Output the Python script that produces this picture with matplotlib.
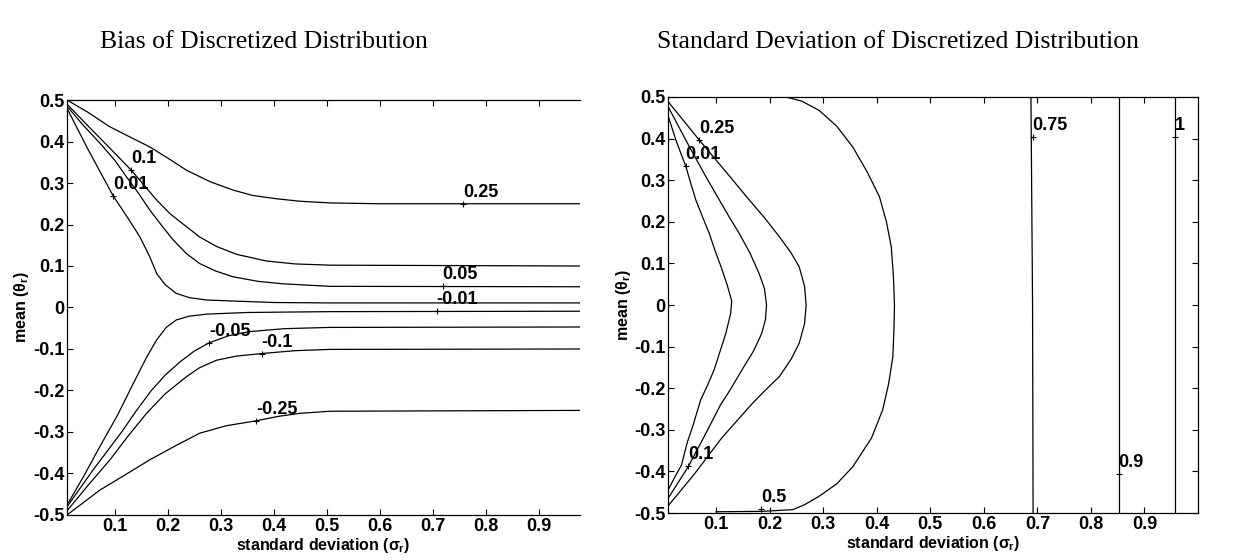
import matplotlib
matplotlib.use("Agg")
import matplotlib.pyplot as plt

plt.rcParams['font.family'] = ['Liberation Sans', 'DejaVu Sans']
plt.rcParams['mathtext.fontset'] = 'custom'
plt.rcParams['mathtext.rm'] = 'Liberation Sans:bold'
plt.rcParams['mathtext.it'] = 'Liberation Sans:bold'

# left panel: bias contours
b025_x = [0.01, 0.05, 0.09, 0.13, 0.166, 0.2, 0.235, 0.28, 0.323, 0.36, 0.405, 0.45, 0.506, 0.6, 0.757, 0.977]
b025_y = [0.5, 0.47, 0.436, 0.41, 0.387, 0.36, 0.331, 0.303, 0.283, 0.27, 0.262, 0.256, 0.252, 0.25, 0.25, 0.25]
b01_x = [0.01, 0.05, 0.09, 0.131, 0.155, 0.179, 0.205, 0.235, 0.26, 0.292, 0.33, 0.386, 0.44, 0.506, 0.977]
b01_y = [0.49, 0.437, 0.385, 0.331, 0.295, 0.259, 0.225, 0.195, 0.17, 0.147, 0.128, 0.112, 0.105, 0.102, 0.1]
b005_x = [0.01, 0.04, 0.072, 0.1, 0.122, 0.145, 0.166, 0.19, 0.21, 0.235, 0.26, 0.29, 0.323, 0.37, 0.418, 0.506, 0.977]
b005_y = [0.485, 0.44, 0.396, 0.355, 0.315, 0.275, 0.235, 0.195, 0.163, 0.13, 0.106, 0.088, 0.074, 0.063, 0.057, 0.051, 0.05]
b001_x = [0.01, 0.05, 0.097, 0.125, 0.147, 0.165, 0.179, 0.195, 0.216, 0.24, 0.273, 0.4, 0.506, 0.977]
b001_y = [0.48, 0.38, 0.269, 0.215, 0.171, 0.125, 0.082, 0.055, 0.034, 0.024, 0.018, 0.012, 0.011, 0.011]
bm001_x = [0.01, 0.04, 0.072, 0.105, 0.135, 0.16, 0.179, 0.197, 0.216, 0.24, 0.273, 0.35, 0.506, 0.977]
bm001_y = [-0.476, -0.41, -0.335, -0.26, -0.183, -0.12, -0.078, -0.048, -0.03, -0.021, -0.016, -0.012, -0.01, -0.009]
bm005_x = [0.01, 0.06, 0.113, 0.14, 0.169, 0.195, 0.223, 0.25, 0.278, 0.315, 0.355, 0.42, 0.506, 0.977]
bm005_y = [-0.48, -0.39, -0.3, -0.25, -0.2, -0.163, -0.131, -0.105, -0.085, -0.068, -0.058, -0.051, -0.048, -0.047]
bm01_x = [0.01, 0.05, 0.091, 0.125, 0.16, 0.195, 0.235, 0.26, 0.292, 0.33, 0.377, 0.44, 0.506, 0.977]
bm01_y = [-0.49, -0.428, -0.367, -0.31, -0.255, -0.208, -0.167, -0.145, -0.127, -0.117, -0.111, -0.104, -0.101, -0.1]
bm025_x = [0.01, 0.072, 0.12, 0.166, 0.215, 0.26, 0.31, 0.367, 0.41, 0.449, 0.506, 0.977]
bm025_y = [-0.5, -0.44, -0.403, -0.367, -0.333, -0.303, -0.285, -0.273, -0.262, -0.255, -0.25, -0.248]

bias_lines = [(b025_x, b025_y), (b01_x, b01_y), (b005_x, b005_y), (b001_x, b001_y),
              (bm001_x, bm001_y), (bm005_x, bm005_y), (bm01_x, bm01_y), (bm025_x, bm025_y)]
bias_lab = ["0.25", "0.1", "0.01", "0.05", "-0.01", "-0.05", "-0.1", "-0.25"]
bias_lab_x = [0.757, 0.131, 0.097, 0.718, 0.707, 0.278, 0.377, 0.367]
bias_lab_y = [0.25, 0.331, 0.269, 0.052, -0.009, -0.085, -0.111, -0.273]

# right panel: standard deviation contours
s001_x = [0.01, 0.025, 0.043, 0.053, 0.062, 0.075, 0.087, 0.098, 0.109, 0.12, 0.129, 0.127, 0.118, 0.107,
          0.096, 0.083, 0.071, 0.056, 0.046, 0.035, 0.022, 0.01]
s001_y = [0.455, 0.395, 0.334, 0.29, 0.252, 0.21, 0.172, 0.13, 0.092, 0.05, 0.01, -0.02, -0.068, -0.112,
          -0.156, -0.195, -0.228, -0.292, -0.33, -0.385, -0.415, -0.445]
s01_x = [0.01, 0.05, 0.08, 0.106, 0.125, 0.143, 0.163, 0.18, 0.19, 0.194, 0.192, 0.185, 0.17, 0.148,
         0.128, 0.108, 0.08, 0.048, 0.01]
s01_y = [0.477, 0.38, 0.31, 0.252, 0.21, 0.172, 0.125, 0.076, 0.04, 0.0, -0.035, -0.068, -0.11, -0.156,
         -0.2, -0.24, -0.31, -0.388, -0.465]
s025_x = [0.01, 0.068, 0.115, 0.162, 0.19, 0.218, 0.24, 0.255, 0.265, 0.268, 0.265, 0.255, 0.24, 0.218,
          0.19, 0.165, 0.11, 0.06, 0.01]
s025_y = [0.489, 0.397, 0.325, 0.252, 0.21, 0.164, 0.125, 0.092, 0.045, 0.0, -0.045, -0.092, -0.13, -0.172,
          -0.207, -0.24, -0.32, -0.405, -0.483]
s05_x = [0.23, 0.26, 0.292, 0.325, 0.355, 0.382, 0.405, 0.418, 0.427, 0.431, 0.433, 0.432, 0.43, 0.422,
         0.411, 0.39, 0.355, 0.325, 0.292, 0.265, 0.243, 0.185, 0.1]
s05_y = [0.5, 0.49, 0.468, 0.43, 0.38, 0.32, 0.26, 0.2, 0.14, 0.07, 0.0, -0.06, -0.124, -0.19,
         -0.252, -0.32, -0.389, -0.43, -0.46, -0.48, -0.492, -0.496, -0.497]
s075_x = [0.688, 0.691, 0.692]
s075_y = [0.5, 0.0, -0.5]
s09_x = [0.852, 0.852]
s09_y = [0.5, -0.5]
s1_x = [0.957, 0.957]
s1_y = [0.5, -0.5]

sd_lines = [(s001_x, s001_y), (s01_x, s01_y), (s025_x, s025_y), (s05_x, s05_y),
            (s075_x, s075_y), (s09_x, s09_y), (s1_x, s1_y)]
sd_lab = ["0.25", "0.01", "0.1", "0.5", "0.75", "0.9", "1"]
sd_lab_x = [0.068, 0.043, 0.048, 0.184, 0.691, 0.852, 0.957]
sd_lab_y = [0.397, 0.334, -0.388, -0.49, 0.403, -0.406, 0.403]

xt = [0.1, 0.2, 0.3, 0.4, 0.5, 0.6, 0.7, 0.8, 0.9]
xtl = ["0.1", "0.2", "0.3", "0.4", "0.5", "0.6", "0.7", "0.8", "0.9"]
yt = [0.5, 0.4, 0.3, 0.2, 0.1, 0, -0.1, -0.2, -0.3, -0.4, -0.5]
ytl = ["0.5", "0.4", "0.3", "0.2", "0.1", "0", "-0.1", "-0.2", "-0.3", "-0.4", "-0.5"]

fig = plt.figure(figsize=(12.48, 5.6), dpi=100)
ax1 = fig.add_axes([0.0537, 0.0804, 0.4110, 0.7410])
ax2 = fig.add_axes([0.5353, 0.0839, 0.4246, 0.7429])


def setup(ax, xlim, right):
    ax.set_xlim(xlim)
    ax.set_ylim(-0.5, 0.5)
    ax.set_xticks(xt)
    ax.set_xticklabels(xtl)
    ax.set_yticks(yt)
    ax.set_yticklabels(ytl)
    ax.tick_params(direction='in', top=True, right=right, length=4, width=0.8,
                   labelsize=13, pad=2)
    for t in ax.get_xticklabels() + ax.get_yticklabels():
        t.set_fontweight('bold')
    for s in ax.spines.values():
        s.set_linewidth(0.9)
    ax.spines['right'].set_visible(right)
    ax.set_xlabel(r'standard deviation ($\sigma_r$)', fontsize=11.5, fontweight='bold', labelpad=1)
    ax.set_ylabel(r'mean ($\theta_r$)', fontsize=11.5, fontweight='bold', labelpad=1)


for lx, ly in bias_lines:
    ax1.plot(lx, ly, color='black', lw=0.9)
for t, lx, ly in zip(bias_lab, bias_lab_x, bias_lab_y):
    ax1.plot(lx, ly, marker='+', color='black', ms=5, mew=0.8)
    ax1.annotate(t, (lx, ly), xytext=(0, 5), textcoords='offset points',
                 ha='left', va='baseline', fontsize=13, fontweight='bold')
setup(ax1, (0.01, 0.977), False)

for lx, ly in sd_lines:
    ax2.plot(lx, ly, color='black', lw=0.9)
for t, lx, ly in zip(sd_lab, sd_lab_x, sd_lab_y):
    ax2.plot(lx, ly, marker='+', color='black', ms=5, mew=0.8)
    ax2.annotate(t, (lx, ly), xytext=(0, 5), textcoords='offset points',
                 ha='left', va='baseline', fontsize=13, fontweight='bold')
setup(ax2, (0.01, 1.0), True)

fig.text(100 / 1248, 1 - 48 / 560, "Bias of Discretized Distribution", family='Liberation Serif',
         fontsize=18.5, ha='left', va='baseline')
fig.text(657 / 1248, 1 - 48 / 560, "Standard Deviation of Discretized Distribution",
         family='Liberation Serif', fontsize=18.5, ha='left', va='baseline')

fig.savefig("out.png", dpi=100)
